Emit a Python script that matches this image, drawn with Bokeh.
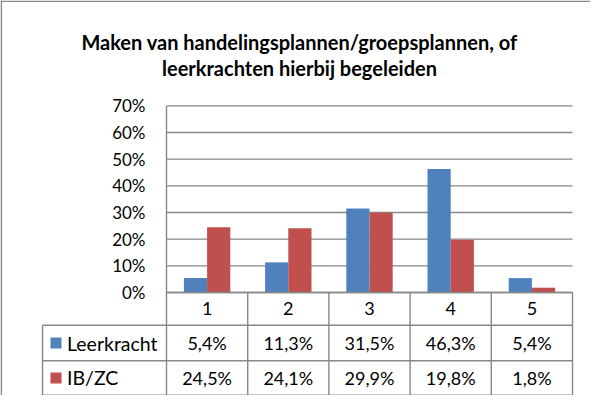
from bokeh.plotting import figure
from bokeh.models import Range1d
from bokeh.embed import file_html
from bokeh.resources import INLINE
from bokeh.core.properties import value

# ---------------- data ----------------
title_lines = ["Maken van handelingsplannen/groepsplannen, of",
               "leerkrachten hierbij begeleiden"]
categories = ["1", "2", "3", "4", "5"]
series_names = ["Leerkracht", "IB/ZC"]
leerkracht = [5.4, 11.3, 31.5, 46.3, 5.4]
ib_zc = [24.5, 24.1, 29.9, 19.8, 1.8]
y_ticks = [0, 10, 20, 30, 40, 50, 60, 70]
y_tick_labels = ["0%", "10%", "20%", "30%", "40%", "50%", "60%", "70%"]
colors = ["#4F81BD", "#C0504D"]

# ---------------- layout (page pixels) ----------------
W, H = 590, 395
OFF = 8
PLOT_L, PLOT_R = 174, 580
ZERO_Y = 300
PX_PER_PCT = 2.6667
CAT_W = (PLOT_R - PLOT_L) / len(categories)
GRID = "#888888"
FONT = value("Lato")


def px_x(page_x):
    return 0.5 + (page_x - PLOT_L) / CAT_W


def px_y(page_y):
    return (ZERO_Y - page_y) / PX_PER_PCT


p = figure(width=W, height=H,
           x_range=Range1d(px_x(OFF), px_x(OFF + W)),
           y_range=Range1d(px_y(OFF + H), px_y(OFF)),
           x_axis_location=None, y_axis_location=None,
           output_backend="svg", toolbar_location=None, min_border=0)
p.grid.visible = False
p.outline_line_color = None
p.background_fill_color = "white"
p.border_fill_color = "white"

# chart border (top and left visible)
p.segment(x0=[px_x(OFF), px_x(OFF + 0.8)], y0=[px_y(OFF + 0.8), px_y(OFF)],
          x1=[px_x(OFF + W), px_x(OFF + 0.8)], y1=[px_y(OFF + 0.8), px_y(OFF + H)],
          line_color=GRID, line_width=1.6)

# title
for i, line in enumerate(title_lines):
    p.text(x=[px_x(307)], y=[px_y(49.5 + i * 25.8)], text=[line],
           text_font=FONT, text_font_style="bold", text_font_size="20px",
           text_align="center", text_baseline="alphabetic", text_color="black")

# gridlines
n = len(categories)
p.segment(x0=[0.5] * len(y_ticks), x1=[n + 0.5] * len(y_ticks),
          y0=y_ticks, y1=y_ticks, line_color=GRID, line_width=1.4)
# y labels
p.text(x=[px_x(153)] * len(y_ticks), y=y_ticks, text=y_tick_labels,
       text_font=FONT, text_font_size="17px", text_align="right",
       text_baseline="middle", text_color="black")

# bars
xs = list(range(1, n + 1))
bw = 0.2857
p.vbar(x=[x - bw / 2 for x in xs], top=leerkracht, bottom=0, width=bw,
       fill_color=colors[0], line_color=None)
p.vbar(x=[x + bw / 2 for x in xs], top=ib_zc, bottom=0, width=bw,
       fill_color=colors[1], line_color=None)

# data table
row_edges = [300, 332.7, 368.3, 402.6]
label_left = 50
# horizontal lines
p.segment(x0=[0.5, px_x(label_left), px_x(label_left), px_x(label_left)],
          x1=[n + 0.5] * 4,
          y0=[px_y(r) for r in row_edges], y1=[px_y(r) for r in row_edges],
          line_color=GRID, line_width=1.4)
# vertical lines
vx = [0.5 + k for k in range(n + 1)]
p.segment(x0=vx, x1=vx, y0=[px_y(113.3)] + [0] * n,
          y1=[px_y(row_edges[-1])] * (n + 1), line_color=GRID, line_width=1.4)
p.segment(x0=[px_x(label_left)], x1=[px_x(label_left)],
          y0=[px_y(row_edges[1])], y1=[px_y(row_edges[-1])],
          line_color=GRID, line_width=1.4)

row_centers = [(row_edges[k] + row_edges[k + 1]) / 2 for k in range(3)]
# category header
p.text(x=xs, y=[px_y(row_centers[0])] * n, text=categories,
       text_font=FONT, text_font_size="18px", text_align="center",
       text_baseline="middle", text_color="black")


def fmt(v):
    return f"{v:.1f}%".replace(".", ",")


for k, (name, vals) in enumerate(zip(series_names, [leerkracht, ib_zc])):
    yc = px_y(row_centers[k + 1])
    p.text(x=xs, y=[yc] * n, text=[fmt(v) for v in vals],
           text_font=FONT, text_font_size="18px", text_align="center",
           text_baseline="middle", text_color="black")
    p.scatter(x=[px_x(63.5)], y=[yc], marker="square", size=11,
              fill_color=colors[k], line_color=None)
    p.text(x=[px_x(74.5)], y=[yc], text=[name],
           text_font=FONT, text_font_size="19.5px", text_align="left",
           text_baseline="middle", text_color="black")

open("out.html", "w").write(file_html(p, INLINE))
